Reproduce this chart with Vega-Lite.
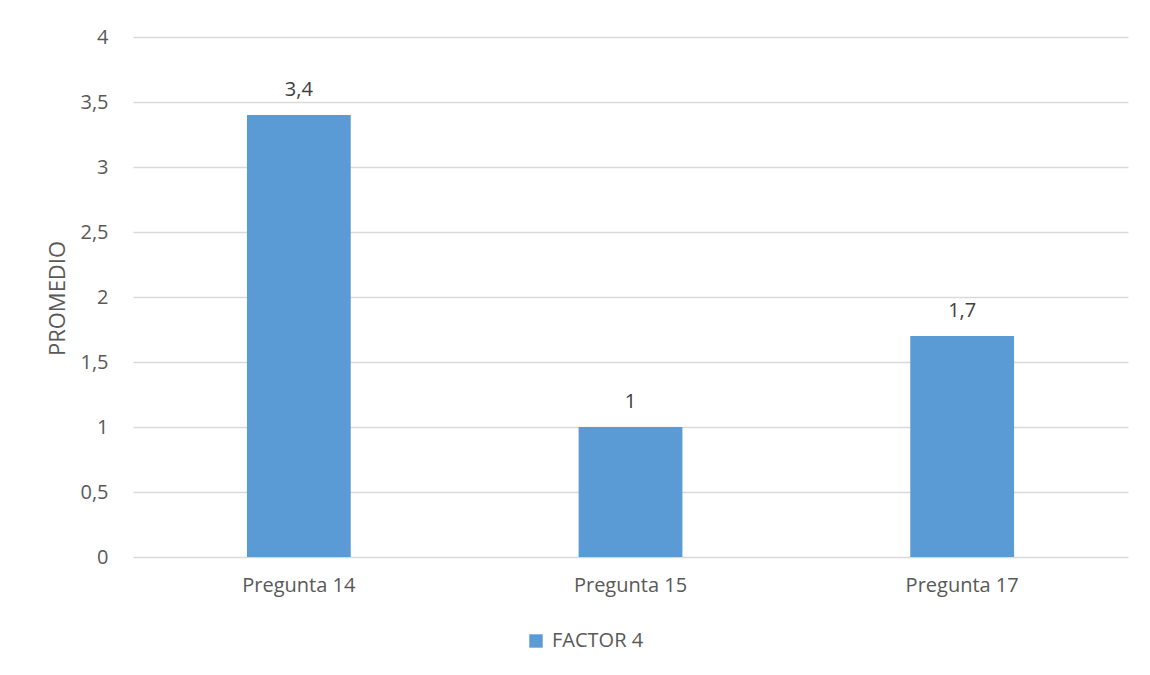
{
  "$schema": "https://vega.github.io/schema/vega-lite/v6.json",
  "width": 995,
  "height": 520,
  "autosize": {"type": "none"},
  "padding": {"left": 133, "top": 37, "right": 22, "bottom": 118},
  "background": "#ffffff",
  "config": {
    "locale": {
      "number": {"decimal": ",", "thousands": ".", "grouping": [3], "currency": ["", " €"]}
    },
    "font": "Open Sans",
    "view": {"stroke": null},
    "axis": {
      "labelFont": "Open Sans",
      "titleFont": "Open Sans",
      "labelColor": "#595959",
      "titleColor": "#595959",
      "labelFontSize": 20,
      "titleFontSize": 22,
      "titleFontWeight": "normal",
      "domain": false,
      "ticks": false,
      "gridColor": "#d9d9d9",
      "gridWidth": 1.3
    }
  },
  "data": {
    "values": [
      {"pregunta": "Pregunta 14", "serie": "FACTOR 4", "promedio": 3.4},
      {"pregunta": "Pregunta 15", "serie": "FACTOR 4", "promedio": 1},
      {"pregunta": "Pregunta 17", "serie": "FACTOR 4", "promedio": 1.7}
    ]
  },
  "encoding": {
    "x": {
      "field": "pregunta",
      "type": "nominal",
      "sort": null,
      "scale": {"paddingInner": 0.687, "paddingOuter": 0.3435},
      "axis": {"title": null, "labelAngle": 0, "labelPadding": 18, "grid": false}
    },
    "y": {
      "field": "promedio",
      "type": "quantitative",
      "scale": {"domain": [0, 4], "nice": false},
      "axis": {
        "title": "PROMEDIO",
        "values": [0, 0.5, 1, 1.5, 2, 2.5, 3, 3.5, 4],
        "format": "~g",
        "labelPadding": 25,
        "titleX": -76,
        "titleY": 261,
        "titleAlign": "center",
        "titleBaseline": "middle",
        "titleAngle": -90
      }
    }
  },
  "layer": [
    {
      "mark": {"type": "bar"},
      "encoding": {
        "color": {
          "field": "serie",
          "type": "nominal",
          "scale": {"range": ["#5b9bd5"]},
          "legend": {
            "title": null,
            "orient": "none",
            "legendX": 393,
            "legendY": 594,
            "direction": "horizontal",
            "symbolType": "square",
            "symbolSize": 180,
            "symbolStrokeWidth": 0,
            "labelFont": "Open Sans",
            "labelFontSize": 20,
            "labelColor": "#595959",
            "labelOffset": 6
          }
        }
      }
    },
    {
      "mark": {
        "type": "text",
        "dy": -19,
        "fontSize": 20,
        "color": "#404040",
        "font": "Open Sans",
        "baseline": "alphabetic"
      },
      "encoding": {
        "text": {"field": "promedio", "type": "quantitative", "format": "~g"}
      }
    }
  ]
}
